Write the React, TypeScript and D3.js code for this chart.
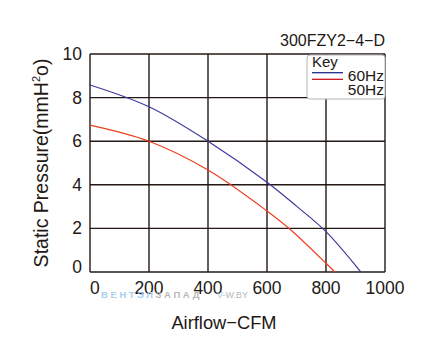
import React from "react";
import * as d3 from "d3";

const xTicks = [0, 200, 400, 600, 800, 1000];
const yTicks = [0, 2, 4, 6, 8, 10];
const flow60 = [0, 200, 400, 600, 700, 800, 918];
const pres60 = [8.58, 7.58, 6.0, 4.12, 3.02, 1.85, 0];
const flow50 = [0, 200, 400, 600, 678, 800, 830];
const pres50 = [6.74, 6.0, 4.68, 2.8, 1.96, 0.4, 0];
const title = "300FZY2−4−D";
const xLabel = "Airflow−CFM";
const yLabelMain = "Static Pressure(mmH";
const yLabelSup = "2";
const yLabelEnd = "o)";
const legendTitle = "Key";
const legendLabels = ["60Hz", "50Hz"];
const wmBlue = "ВЕНТЭЛ";
const wmGray = "ЗАПАД";
const wmSite1 = "V";
const wmSite2 = "-W.BY";

const W = 423, H = 357;
const L = 90, R = 385, T = 54, B = 272;
const FONT = "'Liberation Sans', Arial, Helvetica, sans-serif";
const INK = "#231815";

export default function App() {
  const x = d3.scaleLinear().domain([0, 1000]).range([L, R]);
  const y = d3.scaleLinear().domain([0, 10]).range([B, T]);
  const line = d3
    .line<[number, number]>()
    .x((d) => x(d[0]))
    .y((d) => y(d[1]))
    .curve(d3.curveCatmullRom.alpha(0.5));
  const d60 = line(flow60.map((f, i) => [f, pres60[i]] as [number, number]));
  const d50 = line(flow50.map((f, i) => [f, pres50[i]] as [number, number]));
  return (
    <svg width={W} height={H} style={{ position: "absolute", left: 0, top: 0 }} fontFamily={FONT}>
      <rect width={W} height={H} fill="#fff" />
      {xTicks.map((t) => (
        <line key={"gx" + t} x1={x(t)} x2={x(t)} y1={T} y2={B} stroke={INK} strokeWidth={1.4} />
      ))}
      {yTicks.map((t) => (
        <line key={"gy" + t} x1={L} x2={R} y1={y(t)} y2={y(t)} stroke={INK} strokeWidth={1.4} />
      ))}
      <path d={d60 || ""} fill="none" stroke="#3d3b9a" strokeWidth={1.2} />
      <path d={d50 || ""} fill="none" stroke="#f03c1f" strokeWidth={1.2} />
      {xTicks.map((t, i) => (
        <text
          key={"tx" + t}
          x={x(t)}
          y={294}
          fontSize={17.5}
          textAnchor={i === 0 ? "start" : "middle"}
          fill={INK}
        >
          {t}
        </text>
      ))}
      {yTicks.map((t, i) => (
        <text key={"ty" + t} x={82} y={i === 0 ? y(t) + 0.5 : y(t) + 6} fontSize={17.5} textAnchor="end" fill={INK}>
          {t}
        </text>
      ))}
      <text x={R} y={46} fontSize={16} textAnchor="end" fill={INK}>{title}</text>
      <text x={224} y={329} fontSize={18.3} textAnchor="middle" fill={INK}>{xLabel}</text>
      <text
        transform={`translate(48,${(T + B) / 2}) rotate(-90)`}
        fontSize={19.5}
        textAnchor="middle"
        fill={INK}
      >
        {yLabelMain}
        <tspan fontSize={11} dy={-8}>{yLabelSup}</tspan>
        <tspan dy={8}>{yLabelEnd}</tspan>
      </text>
      <g>
        <rect x={307} y={55} width={78} height={44} rx={3} fill="#fff" stroke="#b4b4b4" strokeWidth={1} />
        <text x={312} y={67} fontSize={15} fill={INK}>{legendTitle}</text>
        <line x1={312} x2={343} y1={72.7} y2={72.7} stroke="#1f2a8c" strokeWidth={1.3} />
        <line x1={312} x2={343} y1={79.3} y2={79.3} stroke="#c8161d" strokeWidth={1.3} />
        <text x={384} y={80.5} fontSize={15.5} textAnchor="end" fill={INK}>{legendLabels[0]}</text>
        <text x={384} y={94.5} fontSize={15.5} textAnchor="end" fill={INK}>{legendLabels[1]}</text>
      </g>
      <g>
        <text x={101} y={298} fontSize={9.5} fontWeight="bold" letterSpacing={2.6} fill="#a8d0f0">
          {wmBlue}
          <tspan fill="#b8b8b8">{wmGray}</tspan>
        </text>
        <text x={217} y={298} fontSize={9} fill="#a8d0f0">
          {wmSite1}
          <tspan fill="#b8b8b8">{wmSite2}</tspan>
        </text>
      </g>
    </svg>
  );
}
